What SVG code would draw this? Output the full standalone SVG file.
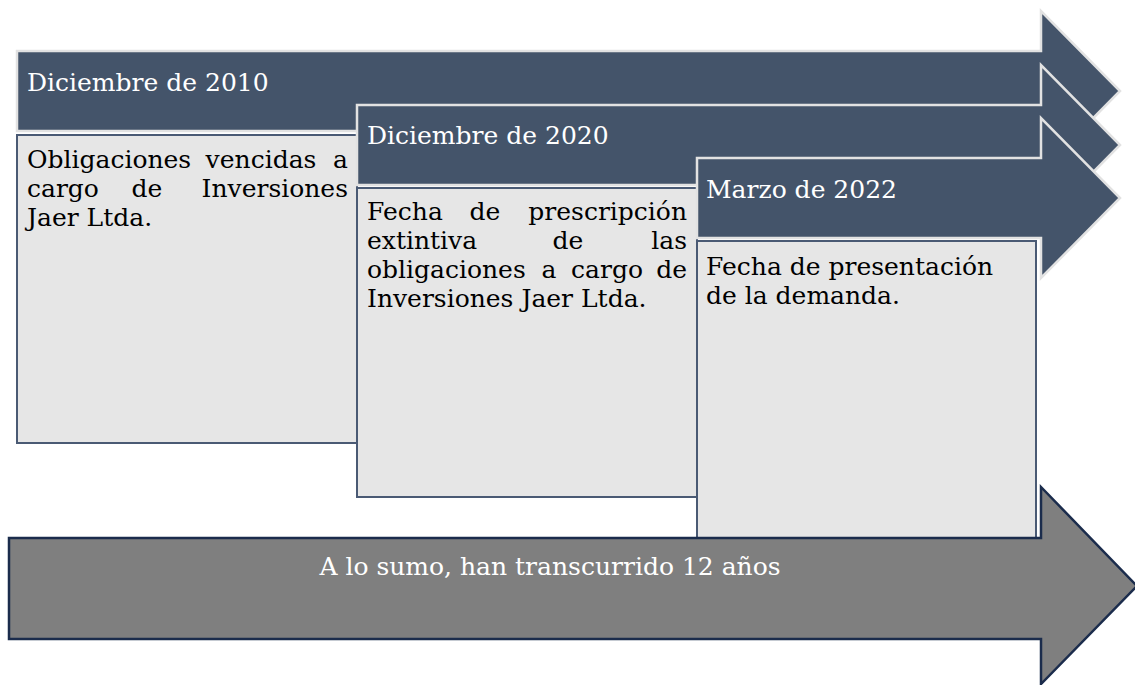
<svg xmlns="http://www.w3.org/2000/svg" width="1135" height="685" viewBox="0 0 1135 685">
<style>
.arrow{fill:#44546a;stroke:#e2e2e2;stroke-width:2.5;stroke-linejoin:miter}
.box{fill:#e6e6e6;stroke:#4a5a74;stroke-width:2}
.gray{fill:#7f7f7f;stroke:#1b2c4c;stroke-width:2.5}
text{font-family:"DejaVu Serif","Liberation Serif",serif;font-size:25px}
.hd{fill:#ffffff}
.bd{fill:#000000}
.wt{fill:#ffffff}
</style>
<rect width="1135" height="685" fill="#ffffff"/>
<g id="arrow1">
<polygon class="arrow" points="17,51 1041,51 1041,11 1120,91 1041,171 1041,131 17,131"/>
<text class="hd" x="27" y="91">Diciembre de 2010</text>
</g>
<g id="box1">
<rect class="box" x="17" y="135" width="340" height="308"/>
<text class="bd" x="27" y="168">Obligaciones</text>
<text class="bd" x="261" y="168" text-anchor="middle">vencidas</text>
<text class="bd" x="348" y="168" text-anchor="end">a</text>
<text class="bd" x="27" y="197">cargo</text>
<text class="bd" x="147" y="197" text-anchor="middle">de</text>
<text class="bd" x="348" y="197" text-anchor="end">Inversiones</text>
<text class="bd" x="27" y="226">Jaer Ltda.</text>
</g>
<g id="arrow2">
<polygon class="arrow" points="357,105 1041,105 1041,65 1120,145 1041,225 1041,185 357,185"/>
<text class="hd" x="367" y="144">Diciembre de 2020</text>
</g>
<g id="box2">
<rect class="box" x="357" y="188" width="340" height="309"/>
<text class="bd" x="367" y="220">Fecha</text>
<text class="bd" x="485" y="220" text-anchor="middle">de</text>
<text class="bd" x="687" y="220" text-anchor="end">prescripción</text>
<text class="bd" x="367" y="249">extintiva</text>
<text class="bd" x="568" y="249" text-anchor="middle">de</text>
<text class="bd" x="687" y="249" text-anchor="end">las</text>
<text class="bd" x="367" y="278">obligaciones</text>
<text class="bd" x="549" y="278" text-anchor="middle">a</text>
<text class="bd" x="607" y="278" text-anchor="middle">cargo</text>
<text class="bd" x="687" y="278" text-anchor="end">de</text>
<text class="bd" x="367" y="307">Inversiones Jaer Ltda.</text>
</g>
<g id="arrow3">
<polygon class="arrow" points="697,158 1041,158 1041,118 1120,198 1041,278 1041,238 697,238"/>
<text class="hd" x="706" y="198">Marzo de 2022</text>
</g>
<g id="box3">
<rect class="box" x="697" y="241" width="339" height="310"/>
<text class="bd" x="706" y="275">Fecha de presentación</text>
<text class="bd" x="706" y="304">de la demanda.</text>
</g>
<g id="timespan">
<polygon class="gray" points="9,538 1041,538 1041,487 1137,586 1041,684 1041,639 9,639"/>
<text class="wt" x="550" y="575" text-anchor="middle">A lo sumo, han transcurrido 12 años</text>
</g>
<g id="connectors"></g>
</svg>
